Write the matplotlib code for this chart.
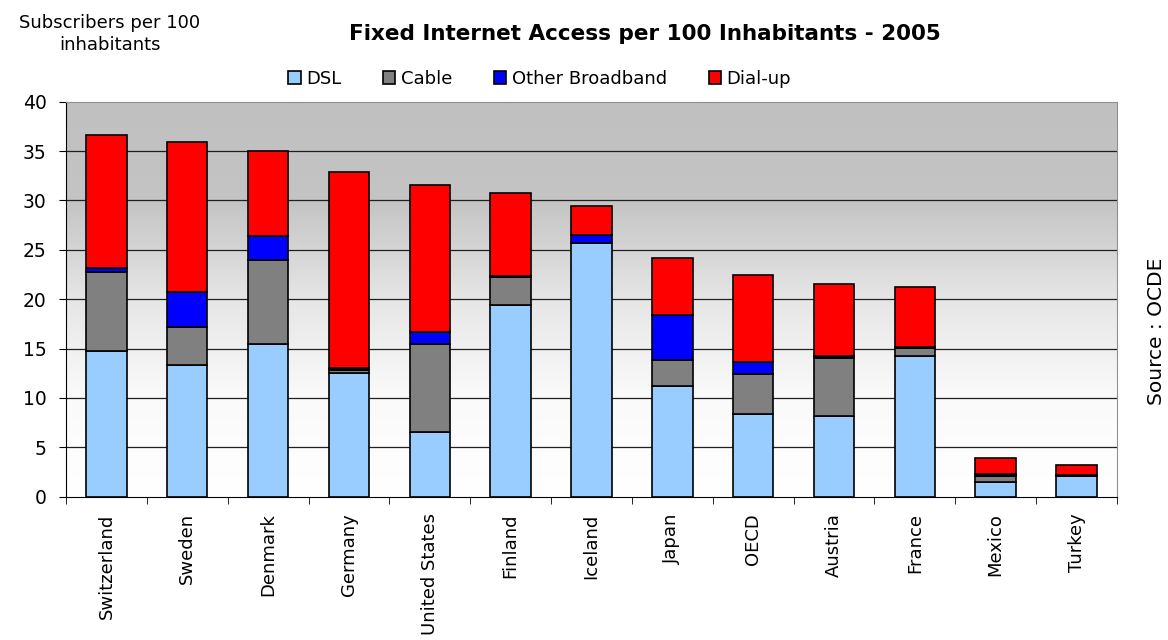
import matplotlib
matplotlib.use("Agg")
import matplotlib.pyplot as plt
from matplotlib.colors import LinearSegmentedColormap
import numpy as np

countries = ['Switzerland', 'Sweden', 'Denmark', 'Germany', 'United States', 'Finland',
             'Iceland', 'Japan', 'OECD', 'Austria', 'France', 'Mexico', 'Turkey']
dsl = [14.8, 13.3, 15.5, 12.5, 6.5, 19.4, 25.7, 11.2, 8.4, 8.2, 14.25, 1.5, 2.1]
cable = [8.0, 3.9, 8.45, 0.35, 9.0, 2.85, 0.0, 2.65, 4.05, 5.8, 0.85, 0.55, 0.0]
other = [0.4, 3.55, 2.45, 0.15, 1.2, 0.15, 0.8, 4.5, 1.2, 0.2, 0.05, 0.2, 0.05]
dialup = [13.4, 15.2, 8.65, 19.9, 14.85, 8.4, 2.95, 5.8, 8.85, 7.3, 6.05, 1.65, 1.1]

series = [('DSL', dsl, '#99ccff'), ('Cable', cable, '#808080'),
          ('Other Broadband', other, '#0000ff'), ('Dial-up', dialup, '#ff0000')]

fig = plt.figure(figsize=(11.68, 6.4), dpi=100)
ax = fig.add_axes([0.0565, 0.224, 0.8998, 0.617])

x = np.arange(len(countries))
ax.set_xlim(-0.5, len(countries) - 0.5)
ax.set_ylim(0, 40)

# grey-to-white background fill
cmap = LinearSegmentedColormap.from_list('bg', ['#ffffff', '#fafafa', '#e6e6e6', '#c4c4c4', '#c0c0c0'])
grad = np.linspace(0, 1, 256).reshape(-1, 1)
ax.imshow(grad, extent=(-0.5, len(countries) - 0.5, 0, 40), origin='lower',
          aspect='auto', cmap=cmap, zorder=0)

for yv in range(5, 40, 5):
    ax.axhline(yv, color='#202020', lw=0.9, zorder=1)

bottom = np.zeros(len(countries))
for name, vals, col in series:
    ax.bar(x, vals, 0.5, bottom=bottom, color=col, edgecolor='black',
           linewidth=1.2, label=name, zorder=2)
    bottom += np.array(vals)

ax.set_yticks(range(0, 41, 5))
ax.tick_params(axis='y', labelsize=13.5, length=5, pad=9, direction='out', color='black')
ax.set_xticks(np.arange(-0.5, len(countries), 1), minor=True)
ax.set_xticks(x)
ax.set_xticklabels(countries, rotation=90, fontsize=13)
ax.tick_params(axis='x', which='major', length=0, pad=12)
ax.tick_params(axis='x', which='minor', length=5, direction='out')

for s in ['top', 'right']:
    ax.spines[s].set_color('#909090')
ax.spines['left'].set_color('black')
ax.spines['bottom'].set_color('black')

fig.text(0.552, 0.947, 'Fixed Internet Access per 100 Inhabitants - 2005',
         ha='center', va='center', fontsize=15.5, fontweight='bold')
fig.text(0.094, 0.947, 'Subscribers per 100\ninhabitants', ha='center',
         va='center', fontsize=13, linespacing=1.25)
fig.text(0.99, 0.483, 'Source : OCDE', rotation=90, ha='center', va='center',
         fontsize=14.5)

fig.legend(loc='center', bbox_to_anchor=(0.462, 0.877), ncol=4, frameon=False,
           fontsize=13, handlelength=0.7, handleheight=0.7, columnspacing=2.3,
           handletextpad=0.3)

fig.savefig('out.png', dpi=100)
